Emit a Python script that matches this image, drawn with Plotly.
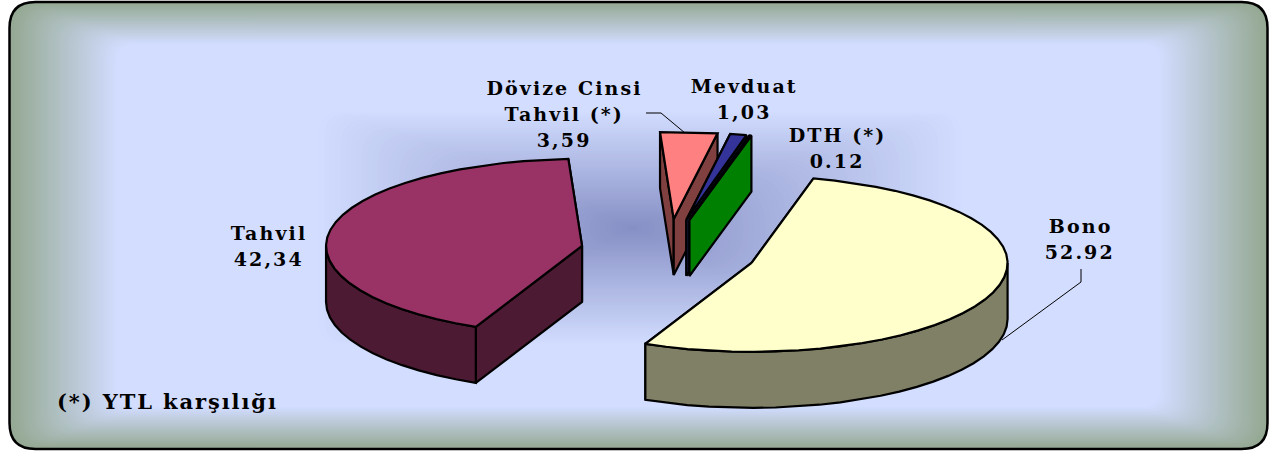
import numpy as np
import plotly.graph_objects as go

# ---- data ----
CATEGORIES = ["Bono", "Tahvil", "Dövize Cinsi Tahvil (*)", "Mevduat", "DTH (*)"]
VALUES = [52.92, 42.34, 3.59, 1.03, 0.12]
TOP_COLORS = ["#FFFFCC", "#993366", "#FF8080", "#333399", "#00FF00"]
WALL_COLORS = ["#808066", "#4D1A33", "#804040", "#1A1A4D", "#008000"]
LABEL_LINES = [["Bono", "52.92"], ["Tahvil", "42,34"], ["Dövize Cinsi", "Tahvil (*)", "3,59"],
               ["Mevduat", "1,03"], ["DTH (*)", "0.12"]]
LABEL_X = [1080, 269, 564, 744, 837]
LABEL_Y = [226, 233, 88, 86, 135]
LINE_STEP = [26, 26, 26, 26, 26]
DRAW_ORDER = [1, 2, 3, 4, 0]
FOOTNOTE = "(*) YTL karşılığı"

# ---- projection of the pie ----
W, H = 1273, 451
CX, CY = 668.5, 252.0
RX, RY_BACK, RY_FRONT = 256.0, 87.0, 89.0
DEPTH = 56.0
EXPLODE_X, EXPLODE_Y = 88.0, 33.0
FIRST_ANGLE = 14.0
SEGMENT_DEG = 5.0
LEADER_X = [[646, 661, 685], [1081, 1081, 1002]]
LEADER_Y = [[113, 113, 133], [269, 282, 340]]

# ---- backdrop ----
FRAME = (9.5, 2.0, 1267.5, 449.0)
EDGE_RGB = np.array([0x94, 0xA8, 0x92])
PANEL_RGB = np.array([0xD2, 0xDD, 0xFF])
GLOW_RGB = np.array([0x86, 0x8F, 0xC4])
GLOW_BOX = (314.0, 110.0, 966.0, 346.0)
GLOW_CENTER = (632.0, 228.0)


def rgb(c):
    return "rgb(%d,%d,%d)" % tuple(np.round(c).astype(int))


def rounded(x0, y0, x1, y1, r):
    r = min(r, (x1 - x0) / 2, (y1 - y0) / 2)
    return (f"M{x0+r},{y0} L{x1-r},{y0} Q{x1},{y0} {x1},{y0+r} L{x1},{y1-r} Q{x1},{y1} {x1-r},{y1} "
            f"L{x0+r},{y1} Q{x0},{y1} {x0},{y1-r} L{x0},{y0+r} Q{x0},{y0} {x0+r},{y0} Z")


shapes = []
N = 54
for i in range(N + 1):
    t = i / N
    shapes.append(dict(type="path", layer="below", line_width=0,
                       fillcolor=rgb(EDGE_RGB + (PANEL_RGB - EDGE_RGB) * t),
                       path=rounded(FRAME[0] + 107 * t, FRAME[1] + 42 * t,
                                    FRAME[2] - 107 * t, FRAME[3] - 42 * t, 26 - 8 * t)))
M = 60
for i in range(M):
    t = i / M
    x0 = GLOW_BOX[0] + (GLOW_CENTER[0] - GLOW_BOX[0]) * t
    x1 = GLOW_BOX[2] + (GLOW_CENTER[0] - GLOW_BOX[2]) * t
    y0 = GLOW_BOX[1] + (GLOW_CENTER[1] - GLOW_BOX[1]) * t
    y1 = GLOW_BOX[3] + (GLOW_CENTER[1] - GLOW_BOX[3]) * t
    shapes.append(dict(type="path", layer="below", line_width=0,
                       fillcolor=rgb(PANEL_RGB + (GLOW_RGB - PANEL_RGB) * t),
                       path=rounded(x0, y0, x1, y1, 20 + 60 * t)))
shapes.append(dict(type="path", layer="below", fillcolor="rgba(0,0,0,0)",
                   line=dict(color="#000000", width=2.5),
                   path=rounded(*FRAME, 26)))

# ---- slices, computed from the values ----
vals = np.asarray(VALUES, float)
spans = vals / vals.sum() * 360.0
starts = FIRST_ANGLE + np.concatenate([[0], np.cumsum(spans)[:-1]])


def rim(cx, cy, a0, a1, n=None):
    if n is None:
        n = 2 if (a1 - a0) < 20 else int(round((a1 - a0) / SEGMENT_DEG)) + 1
    a = np.radians(np.linspace(a0, a1, n))
    c = np.cos(a)
    return cx + RX * np.sin(a), cy - np.where(c > 0, RY_BACK, RY_FRONT) * c


fig = go.Figure()


def poly(xs, ys, fill, name):
    fig.add_trace(go.Scatter(x=xs, y=ys, mode="lines", fill="toself", fillcolor=fill, name=name,
                             line=dict(color="#000000", width=2.2), hoverinfo="name", showlegend=False))


for k in DRAW_ORDER:
    a0, a1 = starts[k], starts[k] + spans[k]
    mid = np.radians((a0 + a1) / 2)
    cx = CX + EXPLODE_X * np.sin(mid)
    cy = CY - EXPLODE_Y * np.cos(mid)
    name, top, wall = CATEGORIES[k], TOP_COLORS[k], WALL_COLORS[k]
    # cut faces, back one first
    edges = sorted((rim(cx, cy, a, a, 1) for a in (a0, a1)), key=lambda e: e[1][0])
    for ex, ey in edges:
        poly([cx, ex[0], ex[0], cx, cx], [cy, ey[0], ey[0] + DEPTH, cy + DEPTH, cy], wall, name)
    # outer wall: only the front half of the rim is visible
    w0 = (max(a0, 90.0), min(a1, 270.0))
    if w0[1] > w0[0]:
        rx_, ry_ = rim(cx, cy, w0[0], w0[1])
        poly(np.r_[rx_, rx_[::-1], rx_[0]], np.r_[ry_, ry_[::-1] + DEPTH, ry_[0]], wall, name)
    # top face
    tx, ty = rim(cx, cy, a0, a1)
    poly(np.r_[cx, tx, cx], np.r_[cy, ty, cy], top, name)

for lx, ly in zip(LEADER_X, LEADER_Y):
    fig.add_trace(go.Scatter(x=lx, y=ly, mode="lines", line=dict(color="#000000", width=1),
                             hoverinfo="skip", showlegend=False))

annotations = []
FONT = dict(family="DejaVu Serif", size=19, color="#000000", weight="bold")
for lines, lx, ly, step in zip(LABEL_LINES, LABEL_X, LABEL_Y, LINE_STEP):
    for j, line in enumerate(lines):
        annotations.append(dict(x=lx, y=ly + j * step, xref="x", yref="y", text=line, showarrow=False,
                                xanchor="center", yanchor="middle", font=FONT))
annotations.append(dict(x=55, y=401, xref="x", yref="y", text=FOOTNOTE, showarrow=False, align="left",
                        xanchor="left", yanchor="middle", font=dict(FONT, size=21)))

fig.update_layout(width=W, height=H, margin=dict(l=0, r=0, t=0, b=0), autosize=False,
                  paper_bgcolor="#FFFFFF", plot_bgcolor="#FFFFFF", showlegend=False,
                  shapes=shapes, annotations=annotations,
                  xaxis=dict(range=[0, W], visible=False, fixedrange=True),
                  yaxis=dict(range=[H, 0], visible=False, fixedrange=True))
POST = ("document.body.style.margin='0';document.body.style.overflow='hidden';"
        "document.querySelectorAll('.annotation-text').forEach(function(t){"
        "t.style.letterSpacing=(t.textContent.indexOf('YTL')>=0?'1.9px':'2.1px');});")
fig.write_html("out.html", post_script=POST, config={"displayModeBar": False})
